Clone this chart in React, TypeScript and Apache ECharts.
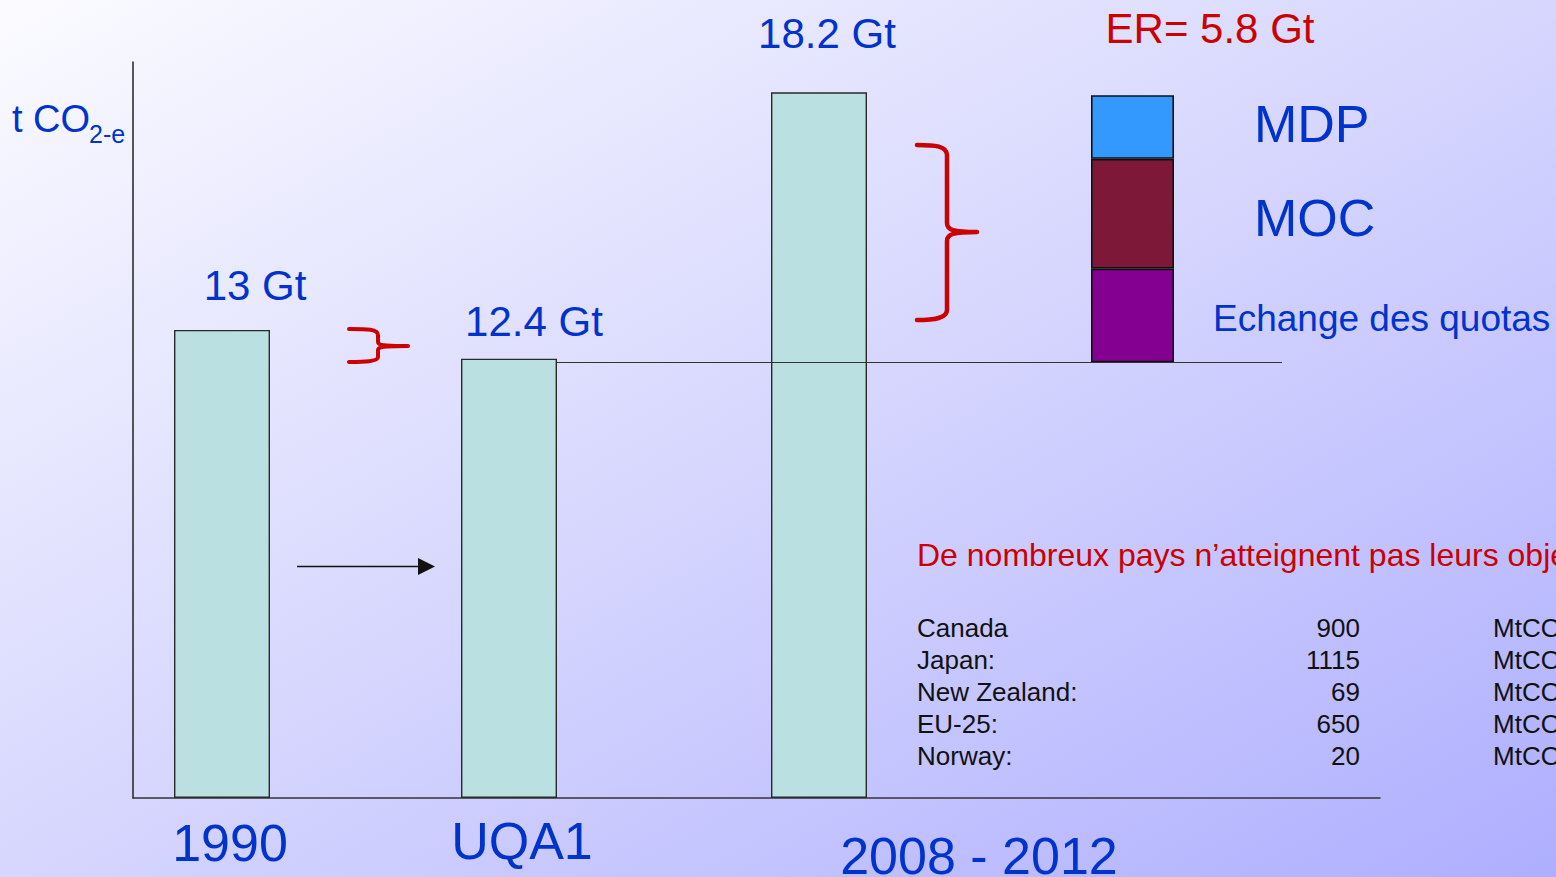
import React, { useEffect, useRef } from "react";
import * as echarts from "echarts";

// ---- data ----
const categories = ["1990", "UQA1", "2008 - 2012", "ER"];
const barLabels = ["13 Gt", "12.4 Gt", "18.2 Gt"];
const barHeights = [13.0, 12.2, 19.6]; // heights as drawn
const erBase = 12.1;
const erParts = ["Echange des quotas", "MOC", "MDP"];
const erValues = [2.6, 3.05, 1.77];
const erLabel = "ER= 5.8 Gt";
const yTitle = "t CO";
const ySub = "2-e";
const note = "De nombreux pays n\u2019atteignent pas leurs objectifs";
const countries = ["Canada", "Japan:", "New Zealand:", "EU-25:", "Norway:"];
const shortfalls = [900, 1115, 69, 650, 20];
const unitLabel = "MtCO2-e";

// ---- styling / layout ----
const FONT = '"Liberation Sans", Arial, Helvetica, sans-serif';
const BLUE = "#0033CC";
const RED = "#CC0000";
const TEAL = "#BAE0E1";
const erColors = ["#840090", "#7D1838", "#3399FF"];
const Y_MAX = 20.44;
const barBoxes = [
  { left: 174, width: 96 },
  { left: 461, width: 96 },
  { left: 771, width: 96 },
  { left: 1091, width: 83 },
];

let shapesRegistered = false;
function registerShapes() {
  if (shapesRegistered) return;
  shapesRegistered = true;
  echarts.graphic.registerShape(
    "bigBrace",
    echarts.graphic.extendPath(
      "M0,0 C18,0 30,1 30,10 L30,78 C30,85 36,87 60,87 C36,87 30,89 30,96 L30,165 C30,173 18,175 0,175",
      {}
    ) as any
  );
  echarts.graphic.registerShape(
    "smallBrace",
    echarts.graphic.extendPath(
      "M0,0 C18,0 29,0 29,6 L29,13 C29,16 33,17 59,17 C33,17 29,18 29,21 L29,28 C29,32 18,33 0,33",
      {}
    ) as any
  );
}

function txt(
  text: string,
  x: number,
  y: number,
  size: number,
  fill: string,
  align: string = "left"
) {
  return {
    type: "text",
    z: 100,
    style: {
      text,
      x,
      y,
      fill,
      fontSize: size,
      fontFamily: FONT,
      align,
      verticalAlign: "middle",
      textAlign: align,
      textVerticalAlign: "middle",
    },
  };
}

export default function App() {
  const ref = useRef<HTMLDivElement>(null);

  useEffect(() => {
    if (!ref.current) return;
    registerShapes();
    const chart = echarts.init(ref.current, undefined, { renderer: "svg" });

    const grids: any[] = [
      { left: 133, right: 176, top: 62, bottom: 79, containLabel: false },
      ...barBoxes.map((b) => ({ left: b.left, width: b.width, top: 62, bottom: 79 })),
    ];
    const xAxes: any[] = [
      {
        type: "category",
        gridIndex: 0,
        data: categories,
        axisLine: { show: true, lineStyle: { color: "#333", width: 1.5 } },
        axisTick: { show: false },
        axisLabel: { show: false },
      },
      ...barBoxes.map((_, i) => ({
        type: "category",
        gridIndex: i + 1,
        data: [categories[i]],
        show: false,
      })),
    ];
    const yAxes: any[] = [
      {
        type: "value",
        gridIndex: 0,
        min: 0,
        max: Y_MAX,
        axisLine: { show: true, lineStyle: { color: "#222", width: 1.5 } },
        axisTick: { show: false },
        axisLabel: { show: false },
        splitLine: { show: false },
      },
      ...barBoxes.map((_, i) => ({
        type: "value",
        gridIndex: i + 1,
        min: 0,
        max: Y_MAX,
        show: false,
        splitLine: { show: false },
      })),
    ];

    const series: any[] = [];
    barHeights.forEach((v, i) => {
      series.push({
        type: "bar",
        name: categories[i],
        xAxisIndex: i + 1,
        yAxisIndex: i + 1,
        data: [v],
        barWidth: "100%",
        itemStyle: { color: TEAL, borderColor: "#2a2a2a", borderWidth: 1.4 },
        silent: true,
      });
    });
    series.push({
      type: "bar",
      name: "base",
      stack: "er",
      xAxisIndex: 4,
      yAxisIndex: 4,
      data: [erBase],
      barWidth: "100%",
      itemStyle: { color: "rgba(0,0,0,0)", borderWidth: 0 },
      silent: true,
    });
    erValues.forEach((v, i) => {
      series.push({
        type: "bar",
        name: erParts[i],
        stack: "er",
        xAxisIndex: 4,
        yAxisIndex: 4,
        data: [v],
        barWidth: "100%",
        itemStyle: { color: erColors[i], borderColor: "#111", borderWidth: 1.6 },
        silent: true,
      });
    });

    const graphics: any[] = [
      // y title
      txt(yTitle, 12, 119, 38, BLUE),
      txt(ySub, 89, 134, 25, BLUE),
      // bar value labels
      txt(barLabels[0], 255, 285, 42, BLUE, "center"),
      txt(barLabels[1], 534, 321, 42, BLUE, "center"),
      txt(barLabels[2], 827, 33, 42, BLUE, "center"),
      txt(erLabel, 1210, 28, 42, RED, "center"),
      // ER part labels
      txt(erParts[2], 1254, 124, 52, BLUE),
      txt(erParts[1], 1254, 218, 52, BLUE),
      txt(erParts[0], 1213, 318, 37, BLUE),
      // category labels
      txt(categories[0], 230, 843, 52, BLUE, "center"),
      txt(categories[1], 522, 841, 52, BLUE, "center"),
      txt(categories[2], 979, 856, 52, BLUE, "center"),
      // note
      txt(note, 917, 555, 32, RED),
      // reference line from UQA1 level
      {
        type: "line",
        z: 100,
        shape: { x1: 556, y1: 362.5, x2: 1282, y2: 362.5 },
        style: { stroke: "#333", lineWidth: 1.2 },
      },
      // arrow
      {
        type: "line",
        z: 100,
        shape: { x1: 297, y1: 566.5, x2: 422, y2: 566.5 },
        style: { stroke: "#111", lineWidth: 1.5 },
      },
      {
        type: "polygon",
        z: 100,
        shape: { points: [[418, 558], [435, 566.5], [418, 575]] },
        style: { fill: "#111" },
      },
      // braces
      {
        type: "bigBrace",
        z: 100,
        x: 917,
        y: 145,
        style: { stroke: RED, lineWidth: 4.5, fill: null, lineCap: "round", lineJoin: "round" },
      },
      {
        type: "smallBrace",
        z: 100,
        x: 349,
        y: 329,
        style: { stroke: RED, lineWidth: 4, fill: null, lineCap: "round", lineJoin: "round" },
      },
    ];

    countries.forEach((c, i) => {
      const y = 628 + i * 32;
      graphics.push(txt(c, 917, y, 26, "#111"));
      graphics.push(txt(String(shortfalls[i]), 1360, y, 26, "#111", "right"));
      graphics.push(txt(unitLabel, 1493, y, 26, "#111"));
    });

    chart.setOption({
      animation: false,
      backgroundColor: "transparent",
      grid: grids,
      xAxis: xAxes,
      yAxis: yAxes,
      series,
      graphic: { elements: graphics },
    });

    return () => chart.dispose();
  }, []);

  return (
    <div
      style={{
        position: "fixed",
        left: 0,
        top: 0,
        width: 1556,
        height: 877,
        background: "linear-gradient(to bottom right, #FBFBFF 0%, #D6D6FE 50%, #AEAEFF 100%)",
      }}
    >
      <div ref={ref} style={{ width: 1556, height: 877 }} />
    </div>
  );
}
